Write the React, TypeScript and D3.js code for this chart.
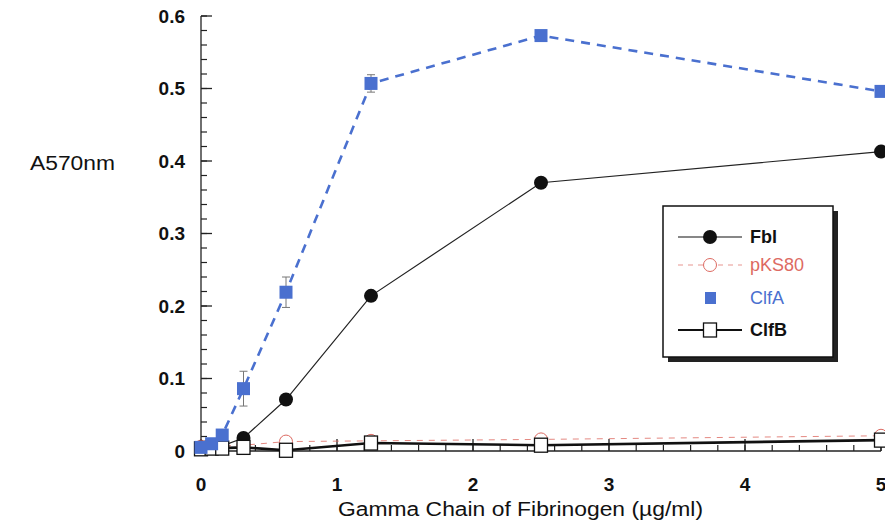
import React from "react";
import * as d3 from "d3";

const concentrations = [0, 0.078, 0.156, 0.3125, 0.625, 1.25, 2.5, 5];
const fblValues = [0.005, 0.005, 0.007, 0.018, 0.071, 0.214, 0.37, 0.413];
const fblErrors = [0.002, 0.002, 0.002, 0.004, 0.006, 0.004, 0.006, 0.003];
const pks80Values = [0.006, 0.006, 0.007, 0.008, 0.013, 0.014, 0.016, 0.021];
const clfaValues = [0.005, 0.01, 0.022, 0.086, 0.219, 0.507, 0.573, 0.496];
const clfaErrors = [0.002, 0.002, 0.003, 0.024, 0.021, 0.012, 0.003, 0.003];
const clfbValues = [0.003, 0.004, 0.004, 0.005, 0.001, 0.011, 0.008, 0.015];
const xTicks = [0, 1, 2, 3, 4, 5];
const yTicks = [0, 0.1, 0.2, 0.3, 0.4, 0.5, 0.6];
const legendLabels = ["Fbl", "pKS80", "ClfA", "ClfB"];

const BLUE = "#4a70cf";
const RED = "#dd6a62";

export default function App() {
  const x = d3.scaleLinear().domain([0, 5]).range([201, 881]);
  const y = d3.scaleLinear().domain([0, 0.6]).range([451, 16]);
  const line = (vals: number[]) =>
    d3
      .line<number>()
      .x((_, i) => x(concentrations[i]))
      .y((d) => y(d))(vals) as string;

  const xMinor = d3.range(0, 5.001, 0.2);
  const yMinor = d3.range(0, 0.6001, 0.02);
  const font = "'Liberation Sans', Arial, sans-serif";

  const legendX = 663;
  const legendY = 206;
  const legendW = 170;
  const legendH = 151;
  const rowY = [237, 265, 298, 330];

  return (
    <svg
      width={885}
      height={525}
      style={{ position: "absolute", left: 0, top: 0, background: "#fff" }}
      fontFamily={font}
    >
      <rect width={885} height={525} fill="#fff" />
      {/* Y axis */}
      <line x1={x(0)} x2={x(0)} y1={y(0)} y2={y(0.6)} stroke="#222" strokeWidth={1.3} />
      {yMinor.map((t, i) => (
        <line key={"ym" + i} x1={x(0)} x2={x(0) + 6} y1={y(t)} y2={y(t)} stroke="#222" strokeWidth={1.2} />
      ))}
      {yTicks.map((t) => (
        <g key={"yt" + t}>
          <line x1={x(0)} x2={x(0) + 11} y1={y(t)} y2={y(t)} stroke="#222" strokeWidth={1.3} />
          <text x={185} y={y(t)} dy="0.36em" textAnchor="end" fontSize={19} fontWeight="bold" fill="#111">
            {t === 0 ? "0" : t.toFixed(1)}
          </text>
        </g>
      ))}
      {/* X axis */}
      <line x1={x(0)} x2={x(5)} y1={y(0)} y2={y(0)} stroke="#222" strokeWidth={1.3} />
      {xMinor.map((t, i) => (
        <line key={"xm" + i} x1={x(t)} x2={x(t)} y1={y(0)} y2={y(0) - 6} stroke="#222" strokeWidth={1.2} />
      ))}
      {xTicks.map((t) => (
        <g key={"xt" + t}>
          <line x1={x(t)} x2={x(t)} y1={y(0)} y2={y(0) - 12} stroke="#222" strokeWidth={1.3} />
          <text x={x(t)} y={491} textAnchor="middle" fontSize={19} fontWeight="bold" fill="#111">
            {t}
          </text>
        </g>
      ))}
      <text x={338} y={516} fontSize={20} fill="#111" textLength={365} lengthAdjust="spacingAndGlyphs">
        Gamma Chain of Fibrinogen (µg/ml)
      </text>
      <text x={30} y={170} fontSize={20} fill="#111" textLength={85} lengthAdjust="spacingAndGlyphs">
        A570nm
      </text>

      {/* pKS80 */}
      <path d={line(pks80Values)} fill="none" stroke={RED} strokeWidth={1} strokeDasharray="6,6" opacity={0.8} />
      {/* ClfB */}
      <path d={line(clfbValues)} fill="none" stroke="#111" strokeWidth={2.6} />
      {/* Fbl */}
      <path d={line(fblValues)} fill="none" stroke="#222" strokeWidth={1.2} />
      {/* ClfA */}
      <path d={line(clfaValues)} fill="none" stroke={BLUE} strokeWidth={2.6} strokeDasharray="9,7" />

      {/* error bars */}
      {clfaValues.map((v, i) => (
        <g key={"ea" + i} stroke="#777" strokeWidth={1}>
          <line x1={x(concentrations[i])} x2={x(concentrations[i])} y1={y(v - clfaErrors[i])} y2={y(v + clfaErrors[i])} />
          <line x1={x(concentrations[i]) - 4} x2={x(concentrations[i]) + 4} y1={y(v + clfaErrors[i])} y2={y(v + clfaErrors[i])} />
          <line x1={x(concentrations[i]) - 4} x2={x(concentrations[i]) + 4} y1={y(v - clfaErrors[i])} y2={y(v - clfaErrors[i])} />
        </g>
      ))}
      {fblValues.map((v, i) => (
        <g key={"ef" + i} stroke="#c55" strokeWidth={1}>
          <line x1={x(concentrations[i]) - 4} x2={x(concentrations[i]) + 4} y1={y(v + fblErrors[i])} y2={y(v + fblErrors[i])} />
        </g>
      ))}

      {/* markers */}
      {pks80Values.map((v, i) => (
        <circle key={"pc" + i} cx={x(concentrations[i])} cy={y(v)} r={6.5} fill="#fff" stroke={RED} strokeWidth={1} />
      ))}
      {fblValues.map((v, i) => (
        <circle key={"fc" + i} cx={x(concentrations[i])} cy={y(v)} r={7} fill="#111" />
      ))}
      {clfbValues.map((v, i) => (
        <rect key={"bs" + i} x={x(concentrations[i]) - 6.5} y={y(v) - 7} width={13} height={14} fill="#fff" stroke="#111" strokeWidth={1.3} />
      ))}
      {clfaValues.map((v, i) => (
        <rect key={"as" + i} x={x(concentrations[i]) - 6.5} y={y(v) - 6.5} width={13} height={13} fill={BLUE} />
      ))}

      {/* legend */}
      <rect x={legendX + 5} y={legendY + 5} width={legendW} height={legendH} fill="#222" />
      <rect x={legendX} y={legendY} width={legendW} height={legendH} fill="#fff" stroke="#111" strokeWidth={1.5} />
      <line x1={678} x2={742} y1={rowY[0]} y2={rowY[0]} stroke="#111" strokeWidth={1.2} />
      <circle cx={710} cy={rowY[0]} r={7} fill="#111" />
      <line x1={678} x2={742} y1={rowY[1]} y2={rowY[1]} stroke={RED} strokeWidth={1} strokeDasharray="5,5" opacity={0.7} />
      <circle cx={710} cy={rowY[1]} r={6.5} fill="#fff" stroke={RED} strokeWidth={1} />
      <rect x={705} y={rowY[2] - 6} width={11} height={12} fill={BLUE} />
      <line x1={678} x2={742} y1={rowY[3]} y2={rowY[3]} stroke="#111" strokeWidth={2.2} />
      <rect x={703.5} y={rowY[3] - 7} width={13} height={14} fill="#fff" stroke="#111" strokeWidth={1.3} />
      {legendLabels.map((l, i) => (
        <text
          key={l}
          x={750}
          y={rowY[i]}
          dy="0.36em"
          fontSize={18}
          fontWeight={i === 0 || i === 3 ? "bold" : "normal"}
          fill={i === 1 ? RED : i === 2 ? BLUE : "#111"}
        >
          {l}
        </text>
      ))}
    </svg>
  );
}
